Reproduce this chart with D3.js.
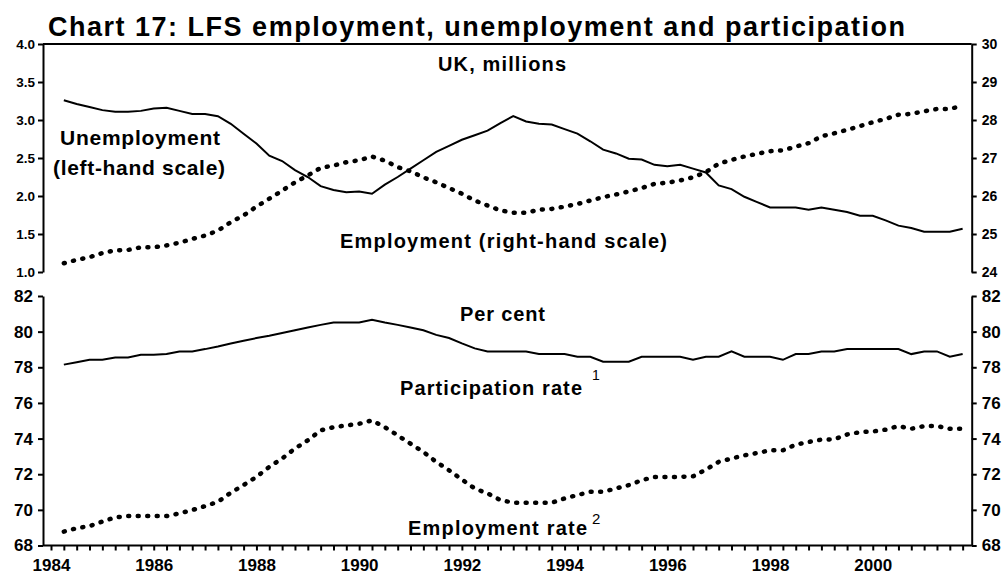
<!DOCTYPE html>
<html>
<head>
<meta charset="utf-8">
<script src="https://cdn.jsdelivr.net/npm/d3@7"></script>
<style>
  body { margin: 0; background: #fff; }
  svg { font-family: "Liberation Sans", Arial, sans-serif; }
  .axis path, .axis line { stroke: #000; stroke-width: 2; }
  .axis text { fill: #000; font-weight: bold; }
</style>
</head>
<body>
<div id="chart"></div>
<script>

// quarterly LFS data, first point spring 1984
var firstQuarter = 1984.25, quarterStep = 0.25;

// UK, millions (left-hand scale)
var unemployment = [3.26, 3.21, 3.17, 3.13, 3.11, 3.11, 3.12, 3.15, 3.16, 3.12, 3.08, 3.08,
  3.05, 2.95, 2.82, 2.69, 2.53, 2.46, 2.34, 2.25, 2.13, 2.08, 2.05, 2.06,
  2.03, 2.15, 2.25, 2.36, 2.47, 2.58, 2.66, 2.74, 2.80, 2.86, 2.96, 3.05,
  2.98, 2.95, 2.94, 2.88, 2.82, 2.72, 2.61, 2.56, 2.49, 2.48, 2.41, 2.39,
  2.41, 2.36, 2.31, 2.14, 2.09, 1.99, 1.92, 1.85, 1.85, 1.85, 1.82, 1.85,
  1.82, 1.79, 1.74, 1.74, 1.68, 1.61, 1.58, 1.53, 1.53, 1.53, 1.57];

// UK, millions (right-hand scale)
var employment = [24.23, 24.32, 24.39, 24.50, 24.57, 24.58, 24.65, 24.65, 24.70, 24.77, 24.87, 24.96,
  25.09, 25.31, 25.49, 25.72, 25.93, 26.14, 26.36, 26.54, 26.74, 26.80, 26.89, 26.94,
  27.04, 26.93, 26.76, 26.65, 26.49, 26.36, 26.21, 26.06, 25.88, 25.75, 25.62, 25.56,
  25.56, 25.64, 25.66, 25.72, 25.79, 25.88, 25.97, 26.04, 26.12, 26.21, 26.32, 26.35,
  26.41, 26.49, 26.63, 26.85, 26.95, 27.04, 27.11, 27.18, 27.20, 27.30, 27.39, 27.57,
  27.65, 27.74, 27.84, 27.94, 28.03, 28.14, 28.16, 28.23, 28.29, 28.29, 28.38];

// per cent
var participationRate = [78.15, 78.28, 78.42, 78.42, 78.55, 78.55, 78.70, 78.70, 78.74, 78.89, 78.89, 79.02,
  79.17, 79.34, 79.49, 79.64, 79.77, 79.92, 80.08, 80.23, 80.38, 80.51, 80.51, 80.51,
  80.66, 80.51, 80.38, 80.23, 80.08, 79.82, 79.64, 79.34, 79.06, 78.89, 78.88, 78.88,
  78.88, 78.74, 78.74, 78.74, 78.59, 78.59, 78.31, 78.31, 78.31, 78.59, 78.59, 78.59,
  78.59, 78.42, 78.59, 78.59, 78.89, 78.59, 78.59, 78.59, 78.42, 78.74, 78.74, 78.89,
  78.89, 79.02, 79.02, 79.02, 79.02, 79.02, 78.74, 78.89, 78.89, 78.59, 78.74];

var employmentRate = [68.78, 68.97, 69.09, 69.34, 69.58, 69.65, 69.65, 69.65, 69.65, 69.80, 69.99, 70.21,
  70.45, 70.96, 71.39, 71.85, 72.41, 72.88, 73.44, 73.90, 74.46, 74.64, 74.74, 74.83,
  75.02, 74.64, 74.18, 73.71, 73.25, 72.69, 72.22, 71.70, 71.20, 70.92, 70.55, 70.40,
  70.40, 70.40, 70.40, 70.64, 70.83, 71.01, 71.01, 71.20, 71.39, 71.66, 71.85, 71.85,
  71.85, 71.88, 72.26, 72.69, 72.88, 73.06, 73.19, 73.34, 73.34, 73.66, 73.81, 73.94,
  73.96, 74.23, 74.36, 74.40, 74.50, 74.70, 74.55, 74.70, 74.70, 74.55, 74.55];

// tick labels
var topLeftTicks = [1.0, 1.5, 2.0, 2.5, 3.0, 3.5, 4.0];
var topRightTicks = [24, 25, 26, 27, 28, 29, 30];
var bottomTicks = [68, 70, 72, 74, 76, 78, 80, 82];
var yearLabels = [1984, 1986, 1988, 1990, 1992, 1994, 1996, 1998, 2000];

// dimensions
var width = 1005, height = 575;
var plotLeft = 43, plotRight = 971.7;
var fontFam = '"Liberation Sans", Arial, sans-serif';

var svg = d3.select("#chart")
  .append("svg")
    .attr("width", width)
    .attr("height", height);

svg.append("rect").attr("width", width).attr("height", height).attr("fill", "#fff");

// scales
var x = d3.scaleLinear().domain([1984, 2002]).range([51, 51 + 18 * 51.36]);
var yTopL = d3.scaleLinear().domain([1, 4]).range([272, 44]);
var yTopR = d3.scaleLinear().domain([24, 30]).range([272, 44]);
var yBot = d3.scaleLinear().domain([68, 82]).range([545.5, 296]);

function quarterX(i) { return x(firstQuarter + i * quarterStep); }

// title
svg.append("text")
  .attr("x", 48).attr("y", 36)
  .attr("font-size", 27).attr("font-weight", "bold")
  .attr("textLength", 857).attr("lengthAdjust", "spacing")
  .text("Chart 17:  LFS employment, unemployment and participation");

// ---- top panel ----
svg.append("g").attr("class", "axis")
  .attr("transform", "translate(" + plotLeft + ",0)")
  .call(d3.axisLeft(yTopL).tickValues(topLeftTicks).tickFormat(d3.format(".1f"))
    .tickSize(5).tickSizeOuter(0).tickPadding(3))
  .selectAll("text").attr("font-size", 13.5).attr("font-family", fontFam);

svg.append("g").attr("class", "axis")
  .attr("transform", "translate(" + plotRight + ",0)")
  .call(d3.axisRight(yTopR).tickValues(topRightTicks).tickFormat(d3.format("d"))
    .tickSize(5).tickSizeOuter(0).tickPadding(5))
  .selectAll("text").attr("font-size", 14).attr("font-family", fontFam);

// top border
svg.append("line")
  .attr("x1", plotLeft).attr("x2", plotRight)
  .attr("y1", yTopL(4)).attr("y2", yTopL(4))
  .attr("stroke", "#000").attr("stroke-width", 2);

var lineTopL = d3.line().x(function(d, i) { return quarterX(i); }).y(function(d) { return yTopL(d); });
var lineTopR = d3.line().x(function(d, i) { return quarterX(i); }).y(function(d) { return yTopR(d); });
var lineBot = d3.line().x(function(d, i) { return quarterX(i); }).y(function(d) { return yBot(d); });

svg.append("path").datum(employment)
  .attr("d", lineTopR)
  .attr("fill", "none").attr("stroke", "#000")
  .attr("stroke-width", 4.5).attr("stroke-linecap", "round")
  .attr("stroke-dasharray", "1 8.5");

svg.append("path").datum(unemployment)
  .attr("d", lineTopL)
  .attr("fill", "none").attr("stroke", "#000").attr("stroke-width", 2);

// ---- bottom panel ----
svg.append("g").attr("class", "axis")
  .attr("transform", "translate(" + plotLeft + ",0)")
  .call(d3.axisLeft(yBot).tickValues(bottomTicks)
    .tickSize(5).tickSizeOuter(0).tickPadding(5))
  .selectAll("text").attr("font-size", 17).attr("font-family", fontFam);

svg.append("g").attr("class", "axis")
  .attr("transform", "translate(" + plotRight + ",0)")
  .call(d3.axisRight(yBot).tickValues(bottomTicks)
    .tickSize(5).tickSizeOuter(0).tickPadding(5))
  .selectAll("text").attr("font-size", 17).attr("font-family", fontFam);

// x axis: quarterly ticks, labels every other year
var quarterTicks = d3.range(1984, 2002, 0.25);
var xAxis = svg.append("g").attr("class", "axis")
  .attr("transform", "translate(0," + yBot(68) + ")")
  .call(d3.axisBottom(x).tickValues(quarterTicks)
    .tickFormat(function(d) { return yearLabels.indexOf(d) >= 0 ? d : ""; })
    .tickSize(5).tickSizeOuter(0).tickPadding(8));
xAxis.select(".domain").remove();
xAxis.selectAll("text").attr("font-size", 17).attr("font-family", fontFam);

svg.append("line")
  .attr("x1", plotLeft).attr("x2", plotRight)
  .attr("y1", yBot(68)).attr("y2", yBot(68))
  .attr("stroke", "#000").attr("stroke-width", 2);

svg.append("path").datum(employmentRate)
  .attr("d", lineBot)
  .attr("fill", "none").attr("stroke", "#000")
  .attr("stroke-width", 4.5).attr("stroke-linecap", "round")
  .attr("stroke-dasharray", "1 8.5");

svg.append("path").datum(participationRate)
  .attr("d", lineBot)
  .attr("fill", "none").attr("stroke", "#000").attr("stroke-width", 2);

// ---- annotations ----
function label(txt, lx, ly, size, len, weight) {
  var t = svg.append("text")
    .attr("x", lx).attr("y", ly)
    .attr("fill", "#000")
    .attr("font-size", size)
    .attr("font-weight", weight || "bold")
    .text(txt);
  if (len) t.attr("textLength", len).attr("lengthAdjust", "spacing");
  return t;
}

label("UK, millions", 438, 70.5, 20, 128);
label("Unemployment", 60, 145, 21, 160);
label("(left-hand scale)", 53, 175, 21, 172);
label("Employment (right-hand scale)", 340, 247.5, 20, 327);
label("Per cent", 460, 321, 20, 85);
label("Participation rate", 400, 395, 20, 182);
label("1", 592, 380, 14, null, "normal");
label("Employment rate", 408, 535, 20, 179);
label("2", 592, 524, 15, null, "normal");

</script>
</body>
</html>
